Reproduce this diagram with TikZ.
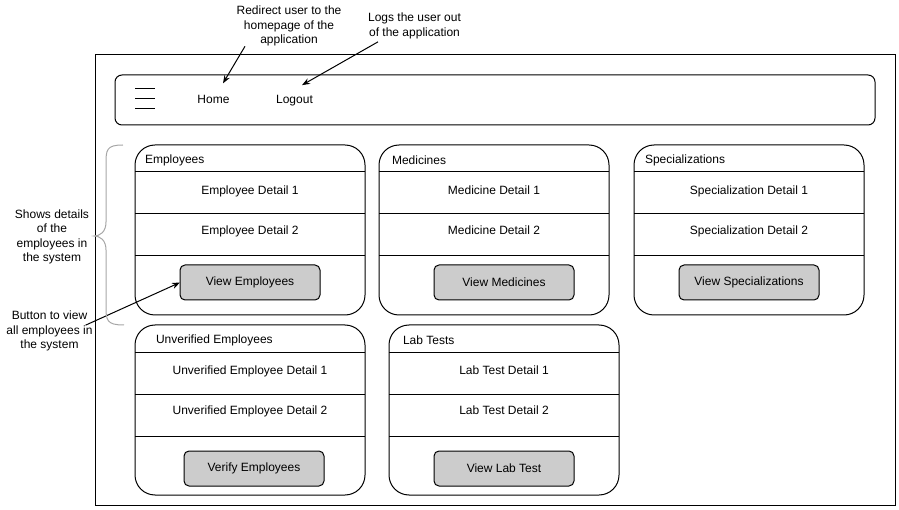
\documentclass[tikz,border=0pt]{standalone}
\usepackage{fontspec}
\setmainfont{Liberation Sans}
\usetikzlibrary{positioning}
\usetikzlibrary{fit}
\usetikzlibrary{arrows.meta}
\definecolor{bracegray}{HTML}{A6A6A6}

\begin{document}
\begin{tikzpicture}[x=1pt, y=-1pt, line width=1pt, outer sep=0,
        font=\fontsize{12}{14.5}\selectfont,
        band/.style={minimum width=230pt, minimum height=#1, inner sep=0},
        detail/.style={band=42pt, text depth=#1},
        caption/.style={inner sep=0, text height=12pt},
        card/.style={draw, rounded corners=20pt, inner sep=0},
        button/.style={draw, fill=gray!40, rounded corners=5pt, minimum width=140pt, minimum height=35pt, inner sep=0},
        remark/.style={align=center, inner sep=0},
        pointer/.style={-{Stealth[length=8pt, width=6pt]}}]
        \useasboundingbox (0,0) rectangle (899,510);
        % page frame and menu bar
        \node [draw, anchor=north west, minimum width=800pt, minimum height=450pt] (frame) at (95,55) {};
        \node [draw, anchor=north west, rounded corners=7pt, minimum width=760pt, minimum height=50pt] (nav) at (115,75) {};
        \draw ([shift={(20pt,-14pt)}]nav.north west) -- ++(20,0)
              ([shift={(20pt,-24pt)}]nav.north west) -- ++(20,0)
              ([shift={(20pt,-34pt)}]nav.north west) -- ++(20,0);
        \node [inner sep=0] (home) at (213.5,99.5) {Home};
        \node [inner sep=0] (logout) at (294.5,100.5) {Logout};
        % employees card
        \node [band=27pt, anchor=north west] (e1) at (135,145) {};
        \node [detail=6pt, below = 0 of e1] (e2) {Employee Detail 1};
        \node [detail=10pt, below = 0 of e2] (e3) {Employee Detail 2};
        \node [band=59pt, below = 0 of e3] (e4) {};
        \node [card, fit=(e1)(e4)] (e5) {};
        \node [button, below right = 9pt and 45pt of e3.south west] (e6) {View Employees};
        \node [caption, right = 10pt of e1.west] (e7) {Employees};
        \draw (e1.south west) -- (e1.south east) (e2.south west) -- (e2.south east) (e3.south west) -- (e3.south east);
        % medicines card
        \node [band=27pt, anchor=north west] (m1) at (379,145) {};
        \node [detail=6pt, below = 0 of m1] (m2) {Medicine Detail 1};
        \node [detail=10pt, below = 0 of m2] (m3) {Medicine Detail 2};
        \node [band=59pt, below = 0 of m3] (m4) {};
        \node [card, fit=(m1)(m4)] (m5) {};
        \node [button, below right = 9pt and 55pt of m3.south west] (m6) {View Medicines};
        \node [caption, right = 13pt of m1.west] (m7) {Medicines};
        \draw (m1.south west) -- (m1.south east) (m2.south west) -- (m2.south east) (m3.south west) -- (m3.south east);
        % specializations card
        \node [band=27pt, anchor=north west] (s1) at (634,145) {};
        \node [detail=6pt, below = 0 of s1] (s2) {Specialization Detail 1};
        \node [detail=10pt, below = 0 of s2] (s3) {Specialization Detail 2};
        \node [band=59pt, below = 0 of s3] (s4) {};
        \node [card, fit=(s1)(s4)] (s5) {};
        \node [button, below right = 9pt and 45pt of s3.south west] (s6) {View Specializations};
        \node [caption, right = 11pt of s1.west] (s7) {Specializations};
        \draw (s1.south west) -- (s1.south east) (s2.south west) -- (s2.south east) (s3.south west) -- (s3.south east);
        % unverified employees card
        \node [band=27pt, anchor=north west] (u1) at (135,325) {};
        \node [detail=6pt, below = 0 of u1] (u2) {Unverified Employee Detail 1};
        \node [detail=10pt, below = 0 of u2] (u3) {Unverified Employee Detail 2};
        \node [band=59pt, below = 0 of u3] (u4) {};
        \node [card, fit=(u1)(u4)] (u5) {};
        \node [button, below right = 15pt and 49pt of u3.south west] (u6) {Verify Employees};
        \node [caption, right = 21pt of u1.west] (u7) {Unverified Employees};
        \draw (u1.south west) -- (u1.south east) (u2.south west) -- (u2.south east) (u3.south west) -- (u3.south east);
        % lab tests card
        \node [band=27pt, anchor=north west] (l1) at (389,325) {};
        \node [detail=6pt, below = 0 of l1] (l2) {Lab Test Detail 1};
        \node [detail=10pt, below = 0 of l2] (l3) {Lab Test Detail 2};
        \node [band=59pt, below = 0 of l3] (l4) {};
        \node [card, fit=(l1)(l4)] (l5) {};
        \node [button, below right = 15pt and 45pt of l3.south west] (l6) {View Lab Test};
        \node [caption, right = 14pt of l1.west] (l7) {Lab Tests};
        \draw (l1.south west) -- (l1.south east) (l2.south west) -- (l2.south east) (l3.south west) -- (l3.south east);
        % remarks
        \node [remark] (redirect) at (289,26.2) {Redirect user to the\\homepage of the\\application};
        \node [remark] (logs) at (414.5,26) {Logs the user out\\of the application};
        \node [remark] (shows) at (52,237) {Shows details\\of the\\employees in\\the system};
        \node [remark] (view) at (49.5,331.2) {Button to view\\all employees in\\the system};
        \draw [pointer] ([xshift=-44pt]redirect.south) -- ([shift={(9.5pt,12pt)}]home.north);
        \draw [pointer] ([shift={(-36.5pt,-3pt)}]logs.south) -- ([shift={(7.5pt,10pt)}]logout.north);
        \draw [pointer] ([shift={(-7pt,6pt)}]view.east) -- (e6.west);
        % brace
        \draw [bracegray] (123,145) .. controls (106,145) and (106,150) .. (106,165) -- (106,222)
              .. controls (106,232) and (100,236) .. (94,236) .. controls (100,236) and (106,240) .. (106,250)
              -- (106,305) .. controls (106,320) and (106,325) .. (124,325);
    \end{tikzpicture}
\end{document}
